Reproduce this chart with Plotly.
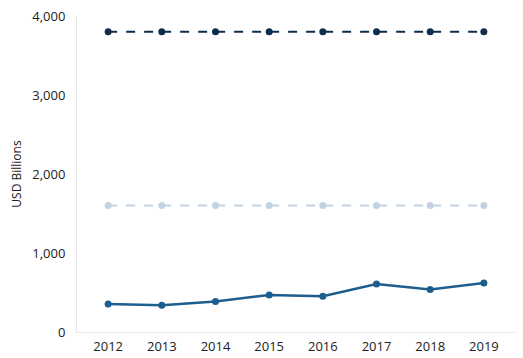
import plotly.graph_objects as go

years = ["2012", "2013", "2014", "2015", "2016", "2017", "2018", "2019"]
series_top = [3800, 3800, 3800, 3800, 3800, 3800, 3800, 3800]
series_mid = [1600, 1600, 1600, 1600, 1600, 1600, 1600, 1600]
series_low = [356, 340, 386, 469, 453, 608, 537, 620]
y_ticks = [0, 1000, 2000, 3000, 4000]
y_tick_labels = ["0", "1,000", "2,000", "3,000", "4,000"]

fig = go.Figure()
fig.add_trace(go.Scatter(x=years, y=series_top, mode="lines+markers",
                         line=dict(color="#0f2d4b", width=2, dash="dash"),
                         marker=dict(size=7, color="#0f2d4b"), showlegend=False, cliponaxis=False))
fig.add_trace(go.Scatter(x=years, y=series_mid, mode="lines+markers",
                         line=dict(color="#c2d2e2", width=2, dash="dash"),
                         marker=dict(size=7, color="#c2d2e2"), showlegend=False, cliponaxis=False))
fig.add_trace(go.Scatter(x=years, y=series_low, mode="lines+markers",
                         line=dict(color="#1d5e8e", width=2.5),
                         marker=dict(size=7, color="#1d5e8e"), showlegend=False, cliponaxis=False))

fig.update_layout(
    width=515, height=350,
    margin=dict(l=69, r=8, t=8, b=26, autoexpand=False),
    paper_bgcolor="white", plot_bgcolor="white",
    font=dict(family="Open Sans", size=13, color="#222222"),
    xaxis=dict(type="category", range=[-0.58, 7.58], showgrid=False,
               showline=True, linecolor="#e6e6e6", linewidth=1, automargin=False,
               ticks="", ticklabelstandoff=2, zeroline=False, ticklabeloverflow="allow"),
    yaxis=dict(range=[0, 4000], tickvals=y_ticks, ticktext=y_tick_labels,
               showgrid=False, showline=True, linecolor="#e6e6e6", linewidth=1,
               ticks="", zeroline=False, ticklabelstandoff=8, automargin=False,
               ticklabeloverflow="allow",
               title=dict(text="USD Billions", font=dict(size=12), standoff=11)),
)

fig.write_html("out.html")
